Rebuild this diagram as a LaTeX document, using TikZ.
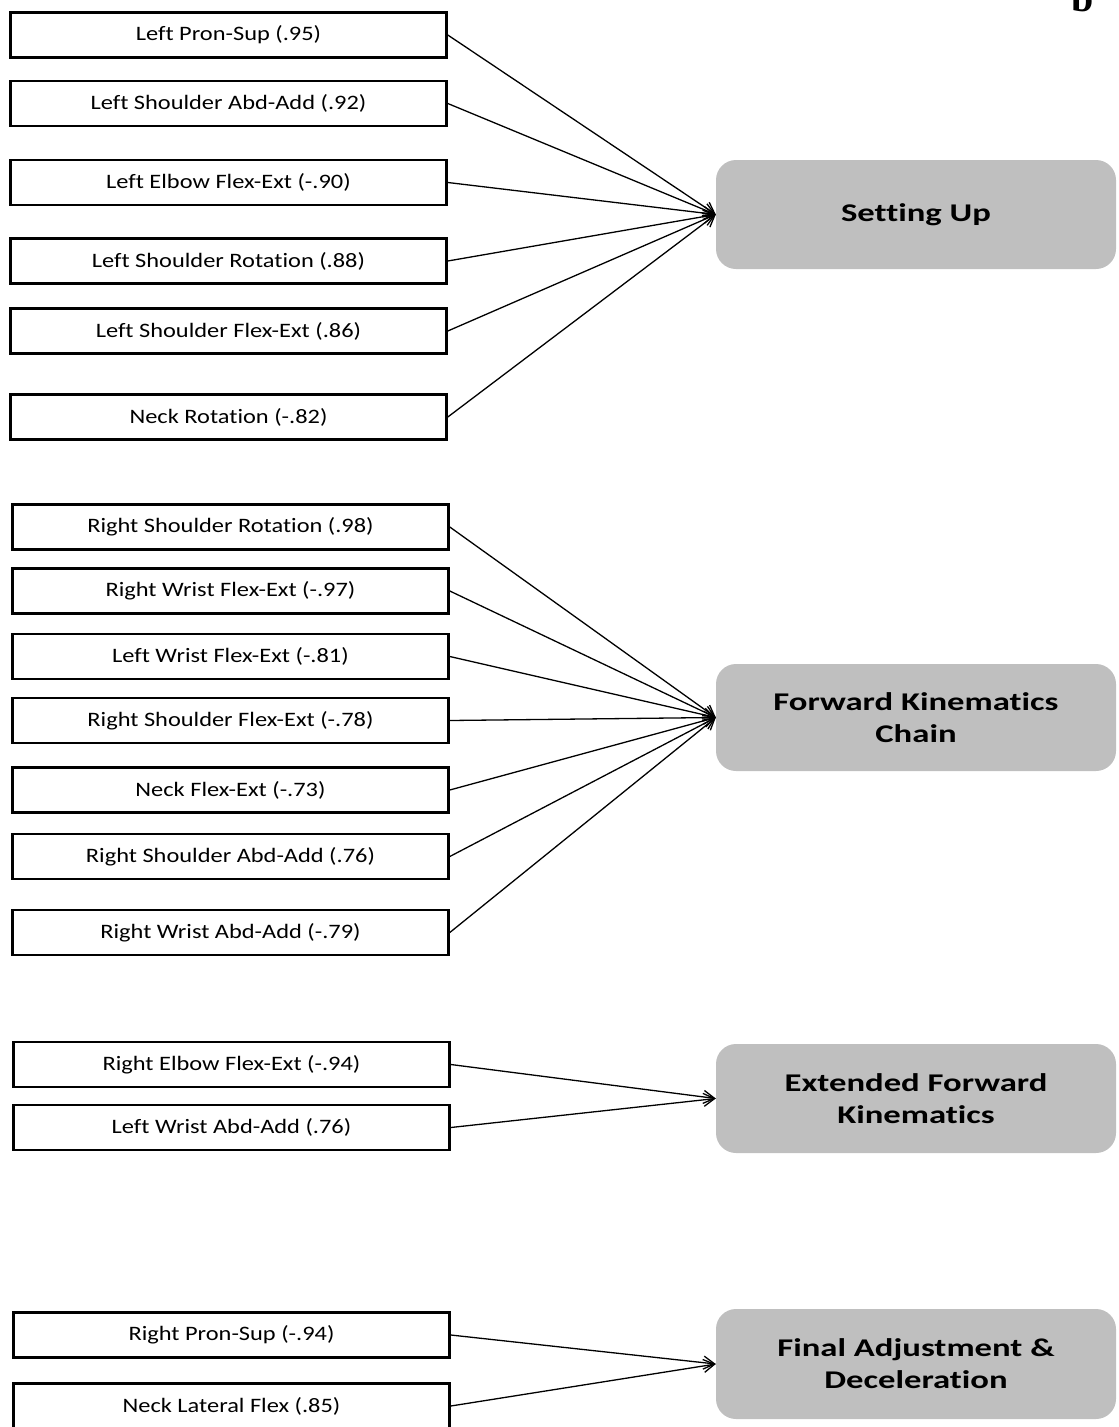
\documentclass[tikz,border=0pt]{standalone}
\usepackage{fontspec}
\setmainfont{Carlito}[Ligatures=NoCommon]
\newfontfamily\varfont{Carlito}[Ligatures=NoCommon,FakeStretch=1.19]
\newfontfamily\factorfont{Carlito}[Ligatures=NoCommon,FakeStretch=1.36]
\newfontfamily\letterfont{Liberation Serif}
\usetikzlibrary{arrows.meta}
\begin{document}
\begin{tikzpicture}[x=1pt,y=-1pt,
  var/.style={draw=black, line width=2.6pt, fill=white, minimum width=436pt, minimum height=45pt,
    inner sep=0pt, font=\varfont\fontsize{20.5}{24}\selectfont},
  factor/.style={fill=black!25, rounded corners=20pt, minimum width=400pt, inner sep=0pt,
    align=center, font=\factorfont\fontsize{25.5}{32}\selectfont\bfseries},
  link/.style={line width=1.3pt, -{Straight Barb[length=11pt,width=13pt,line width=1.3pt]}}]
\useasboundingbox (0,0) rectangle (1119,1427);

\node[anchor=base, font=\fontsize{40}{40}\selectfont\letterfont\bfseries] (lbl) at (1083,11) {b};

% factors
\node[factor, minimum height=109pt] (f1) at (916,214.5) {Setting Up};
\node[factor, minimum height=107pt] (f2) at (916,717.5) {Forward Kinematics\\Chain};
\node[factor, minimum height=109pt] (f3) at (916,1098.5) {Extended Forward\\Kinematics};
\node[factor, minimum height=110pt] (f4) at (916,1364) {Final Adjustment \&\\Deceleration};

% group 1
\node[var] (a1) at (228.5,35) {Left Pron-Sup (.95)};
\node[var] (a2) at (228.5,103.5) {Left Shoulder Abd-Add (.92)};
\node[var] (a3) at (228.5,182.5) {Left Elbow Flex-Ext (-.90)};
\node[var] (a4) at (228.5,261) {Left Shoulder Rotation (.88)};
\node[var] (a5) at (228.5,331) {Left Shoulder Flex-Ext (.86)};
\node[var] (a6) at (228.5,417) {Neck Rotation (-.82)};

% group 2
\node[var] (b1) at (230.5,527) {Right Shoulder Rotation (.98)};
\node[var] (b2) at (230.5,591) {Right Wrist Flex-Ext (-.97)};
\node[var] (b3) at (230.5,656.5) {Left Wrist Flex-Ext (-.81)};
\node[var] (b4) at (230.5,720.5) {Right Shoulder Flex-Ext (-.78)};
\node[var] (b5) at (230.5,790) {Neck Flex-Ext (-.73)};
\node[var] (b6) at (230.5,856.5) {Right Shoulder Abd-Add (.76)};
\node[var] (b7) at (230.5,932.5) {Right Wrist Abd-Add (-.79)};

% group 3
\node[var] (c1) at (231.5,1064.5) {Right Elbow Flex-Ext (-.94)};
\node[var] (c2) at (231.5,1127.5) {Left Wrist Abd-Add (.76)};

% group 4
\node[var] (d1) at (231.5,1335) {Right Pron-Sup (-.94)};
\node[var] (d2) at (231.5,1406) {Neck Lateral Flex (.85)};

% connectors
\foreach \n in {a1,a2,a3,a4,a5,a6} \draw[link] (\n.east) -- (f1.west);
\foreach \n in {b1,b2,b3,b4,b5,b6,b7} \draw[link] (\n.east) -- (f2.west);
\foreach \n in {c1,c2} \draw[link] (\n.east) -- (f3.west);
\foreach \n in {d1,d2} \draw[link] (\n.east) -- (f4.west);
\end{tikzpicture}
\end{document}
